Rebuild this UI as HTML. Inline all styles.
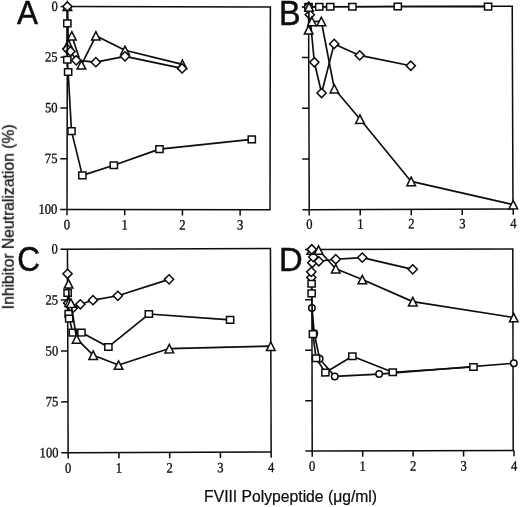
<!DOCTYPE html>
<html lang="en"><head><meta charset="utf-8"><title>FVIII Polypeptide Inhibitor Neutralization</title>
<style>
html,body{margin:0;padding:0;background:#fff;overflow:hidden}
svg{display:block;will-change:transform;opacity:.999}
.ax rect,.ax line{fill:none;stroke:#0a0a0a;stroke-width:1.5}
.ln{fill:none;stroke:#0a0a0a;stroke-width:1.65;stroke-linejoin:round}
.mk *{fill:#fff;stroke:#0a0a0a;stroke-width:1.5;stroke-linejoin:miter}
.tl text{font-family:"Liberation Serif","DejaVu Serif",serif;font-size:14.2px;fill:#0a0a0a;stroke:#0a0a0a;stroke-width:0.3}
.pl{font-family:"Liberation Sans","DejaVu Sans",sans-serif;font-size:33.5px;fill:#0a0a0a;stroke:#0a0a0a;stroke-width:0.45}
.al{font-family:"Liberation Sans","DejaVu Sans",sans-serif;font-size:15.7px;fill:#0a0a0a;stroke:#0a0a0a;stroke-width:0.2}
</style></head><body>
<svg width="520" height="507" viewBox="0 0 520 507">
<defs><filter id="soft" x="0" y="0" width="520" height="507" filterUnits="userSpaceOnUse"><feGaussianBlur stdDeviation="0.38"/></filter></defs>
<rect width="520" height="507" fill="#fff"/>
<g filter="url(#soft)">
<g transform="rotate(0.1 168.7 108.1)">
<g class="ax"><rect x="67.2" y="6.7" width="203.00" height="202.90"/><line x1="60.40" y1="6.70" x2="67.20" y2="6.70"/><line x1="60.40" y1="57.42" x2="67.20" y2="57.42"/><line x1="60.40" y1="108.15" x2="67.20" y2="108.15"/><line x1="60.40" y1="158.87" x2="67.20" y2="158.87"/><line x1="60.40" y1="209.60" x2="67.20" y2="209.60"/><line x1="67.20" y1="209.60" x2="67.20" y2="215.40"/><line x1="124.90" y1="209.60" x2="124.90" y2="215.40"/><line x1="182.60" y1="209.60" x2="182.60" y2="215.40"/><line x1="240.30" y1="209.60" x2="240.30" y2="215.40"/></g>
<g class="tl"><text transform="translate(57.60 11.10) scale(0.89 1)" text-anchor="end">0</text><text transform="translate(57.60 61.82) scale(0.89 1)" text-anchor="end">25</text><text transform="translate(57.60 112.55) scale(0.89 1)" text-anchor="end">50</text><text transform="translate(57.60 163.27) scale(0.89 1)" text-anchor="end">75</text><text transform="translate(57.60 214.00) scale(0.89 1)" text-anchor="end">100</text><text transform="translate(67.20 229.40) scale(0.89 1)" text-anchor="middle">0</text><text transform="translate(124.90 229.40) scale(0.89 1)" text-anchor="middle">1</text><text transform="translate(182.60 229.40) scale(0.89 1)" text-anchor="middle">2</text><text transform="translate(240.30 229.40) scale(0.89 1)" text-anchor="middle">3</text></g>
<path class="ln" d="M67.20 6.29L68.07 44.24L71.70 35.92L81.34 64.93L95.76 35.92L124.90 50.32L182.31 64.32"/>
<g class="mk"><path d="M67.20 2.09L71.50 10.59L62.90 10.59Z"/><path d="M68.07 40.04L72.37 48.54L63.77 48.54Z"/><path d="M71.70 31.72L76.00 40.22L67.40 40.22Z"/><path d="M81.34 60.73L85.64 69.23L77.04 69.23Z"/><path d="M95.76 31.72L100.06 40.22L91.46 40.22Z"/><path d="M124.90 46.12L129.20 54.62L120.60 54.62Z"/><path d="M182.31 60.12L186.61 68.62L178.01 68.62Z"/></g>
<path class="ln" d="M67.20 6.70L67.20 49.31L70.37 51.54L76.14 60.47L95.76 62.29L124.90 56.41L182.02 68.38"/>
<g class="mk"><path d="M67.20 2.10L71.80 6.70L67.20 11.30L62.60 6.70Z"/><path d="M67.20 44.71L71.80 49.31L67.20 53.91L62.60 49.31Z"/><path d="M70.37 46.94L74.97 51.54L70.37 56.14L65.77 51.54Z"/><path d="M76.14 55.87L80.74 60.47L76.14 65.07L71.54 60.47Z"/><path d="M95.76 57.69L100.36 62.29L95.76 66.89L91.16 62.29Z"/><path d="M124.90 51.81L129.50 56.41L124.90 61.01L120.30 56.41Z"/><path d="M182.02 63.78L186.62 68.38L182.02 72.98L177.42 68.38Z"/></g>
<path class="ln" d="M67.20 23.54L67.20 59.86L68.07 72.24L71.53 131.28L82.49 175.51L113.94 165.37L159.52 149.14L251.84 139.19"/>
<g class="mk"><rect x="63.60" y="20.24" width="7.20" height="6.60"/><rect x="63.60" y="56.56" width="7.20" height="6.60"/><rect x="64.47" y="68.94" width="7.20" height="6.60"/><rect x="67.93" y="127.98" width="7.20" height="6.60"/><rect x="78.89" y="172.21" width="7.20" height="6.60"/><rect x="110.34" y="162.07" width="7.20" height="6.60"/><rect x="155.92" y="145.84" width="7.20" height="6.60"/><rect x="248.24" y="135.89" width="7.20" height="6.60"/></g>
</g>
<text class="pl" style="font-size:33.5px" transform="translate(17.0 23.8) scale(0.94 1)">A</text>
<g transform="rotate(-0.2 410.8 108.0)">
<g class="ax"><rect x="308.9" y="6.5" width="203.70" height="202.90"/><line x1="302.10" y1="6.50" x2="308.90" y2="6.50"/><line x1="302.10" y1="57.22" x2="308.90" y2="57.22"/><line x1="302.10" y1="107.95" x2="308.90" y2="107.95"/><line x1="302.10" y1="158.67" x2="308.90" y2="158.67"/><line x1="302.10" y1="209.40" x2="308.90" y2="209.40"/><line x1="308.90" y1="209.40" x2="308.90" y2="215.20"/><line x1="359.90" y1="209.40" x2="359.90" y2="215.20"/><line x1="410.90" y1="209.40" x2="410.90" y2="215.20"/><line x1="461.90" y1="209.40" x2="461.90" y2="215.20"/><line x1="512.90" y1="209.40" x2="512.90" y2="215.20"/></g>
<g class="tl"><text transform="translate(308.90 228.30) scale(0.89 1)" text-anchor="middle">0</text><text transform="translate(359.90 228.30) scale(0.89 1)" text-anchor="middle">1</text><text transform="translate(410.90 228.30) scale(0.89 1)" text-anchor="middle">2</text><text transform="translate(461.90 228.30) scale(0.89 1)" text-anchor="middle">3</text><text transform="translate(512.90 228.30) scale(0.89 1)" text-anchor="middle">4</text></g>
<path class="ln" d="M308.90 6.50L319.61 6.50L330.57 6.50L352.76 6.50L398.15 6.50L488.42 6.91"/>
<g class="mk"><rect x="305.30" y="3.20" width="7.20" height="6.60"/><rect x="316.01" y="3.20" width="7.20" height="6.60"/><rect x="326.97" y="3.20" width="7.20" height="6.60"/><rect x="349.16" y="3.20" width="7.20" height="6.60"/><rect x="394.55" y="3.20" width="7.20" height="6.60"/><rect x="484.82" y="3.61" width="7.20" height="6.60"/></g>
<path class="ln" d="M308.90 6.50L310.17 14.41L314.51 61.89L321.65 92.73L334.40 43.63L359.90 55.20L410.90 65.75"/>
<g class="mk"><path d="M308.90 1.90L313.50 6.50L308.90 11.10L304.30 6.50Z"/><path d="M310.17 9.81L314.77 14.41L310.17 19.01L305.57 14.41Z"/><path d="M314.51 57.29L319.11 61.89L314.51 66.49L309.91 61.89Z"/><path d="M321.65 88.13L326.25 92.73L321.65 97.33L317.05 92.73Z"/><path d="M334.40 39.03L339.00 43.63L334.40 48.23L329.80 43.63Z"/><path d="M359.90 50.60L364.50 55.20L359.90 59.80L355.30 55.20Z"/><path d="M410.90 61.15L415.50 65.75L410.90 70.35L406.30 65.75Z"/></g>
<path class="ln" d="M309.41 6.50L308.90 29.43L312.21 21.11L321.65 21.11L334.40 88.47L359.90 118.91L410.90 181.40L512.90 204.94"/>
<g class="mk"><path d="M309.41 2.30L313.71 10.80L305.11 10.80Z"/><path d="M308.90 25.23L313.20 33.73L304.60 33.73Z"/><path d="M312.21 16.91L316.51 25.41L307.91 25.41Z"/><path d="M321.65 16.91L325.95 25.41L317.35 25.41Z"/><path d="M334.40 84.27L338.70 92.77L330.10 92.77Z"/><path d="M359.90 114.71L364.20 123.21L355.60 123.21Z"/><path d="M410.90 177.20L415.20 185.70L406.60 185.70Z"/><path d="M512.90 200.74L517.20 209.24L508.60 209.24Z"/></g>
</g>
<text class="pl" style="font-size:34.4px" transform="translate(279.0 24.6) scale(0.94 1)">B</text>
<g transform="rotate(-0.2 169.3 350.6)">
<g class="ax"><rect x="67.8" y="248.8" width="203.00" height="203.60"/><line x1="61.00" y1="248.80" x2="67.80" y2="248.80"/><line x1="61.00" y1="299.70" x2="67.80" y2="299.70"/><line x1="61.00" y1="350.60" x2="67.80" y2="350.60"/><line x1="61.00" y1="401.50" x2="67.80" y2="401.50"/><line x1="61.00" y1="452.40" x2="67.80" y2="452.40"/><line x1="67.80" y1="452.40" x2="67.80" y2="458.20"/><line x1="118.55" y1="452.40" x2="118.55" y2="458.20"/><line x1="169.30" y1="452.40" x2="169.30" y2="458.20"/><line x1="220.05" y1="452.40" x2="220.05" y2="458.20"/><line x1="270.80" y1="452.40" x2="270.80" y2="458.20"/></g>
<g class="tl"><text transform="translate(58.20 253.20) scale(0.89 1)" text-anchor="end">0</text><text transform="translate(58.20 304.10) scale(0.89 1)" text-anchor="end">25</text><text transform="translate(58.20 355.00) scale(0.89 1)" text-anchor="end">50</text><text transform="translate(58.20 405.90) scale(0.89 1)" text-anchor="end">75</text><text transform="translate(58.20 456.80) scale(0.89 1)" text-anchor="end">100</text><text transform="translate(67.80 472.40) scale(0.89 1)" text-anchor="middle">0</text><text transform="translate(118.55 472.40) scale(0.89 1)" text-anchor="middle">1</text><text transform="translate(169.30 472.40) scale(0.89 1)" text-anchor="middle">2</text><text transform="translate(220.05 472.40) scale(0.89 1)" text-anchor="middle">3</text><text transform="translate(270.80 472.40) scale(0.89 1)" text-anchor="middle">4</text></g>
<path class="ln" d="M67.80 273.44L68.31 302.55L72.88 307.84L80.49 303.98L93.17 299.90L118.04 295.63L169.30 279.34"/>
<g class="mk"><path d="M67.80 268.84L72.40 273.44L67.80 278.04L63.20 273.44Z"/><path d="M68.31 297.95L72.91 302.55L68.31 307.15L63.71 302.55Z"/><path d="M72.88 303.24L77.47 307.84L72.88 312.44L68.28 307.84Z"/><path d="M80.49 299.38L85.09 303.98L80.49 308.58L75.89 303.98Z"/><path d="M93.17 295.30L97.77 299.90L93.17 304.50L88.58 299.90Z"/><path d="M118.04 291.03L122.64 295.63L118.04 300.23L113.44 295.63Z"/><path d="M169.30 274.74L173.90 279.34L169.30 283.94L164.70 279.34Z"/></g>
<path class="ln" d="M67.80 292.57L68.81 313.54L69.32 318.23L72.88 332.28L81.50 332.28L108.40 346.73L149.00 313.95L230.20 320.06"/>
<g class="mk"><rect x="64.20" y="289.27" width="7.20" height="6.60"/><rect x="65.22" y="310.24" width="7.20" height="6.60"/><rect x="65.72" y="314.93" width="7.20" height="6.60"/><rect x="69.28" y="328.98" width="7.20" height="6.60"/><rect x="77.90" y="328.98" width="7.20" height="6.60"/><rect x="104.80" y="343.43" width="7.20" height="6.60"/><rect x="145.40" y="310.65" width="7.20" height="6.60"/><rect x="226.60" y="316.76" width="7.20" height="6.60"/></g>
<path class="ln" d="M68.81 283.41L69.32 301.74L71.10 302.75L76.68 338.59L93.17 354.88L118.55 364.85L169.30 348.56L270.80 346.53"/>
<g class="mk"><path d="M68.81 279.21L73.11 287.71L64.52 287.71Z"/><path d="M69.32 297.54L73.62 306.04L65.02 306.04Z"/><path d="M71.10 298.55L75.40 307.05L66.80 307.05Z"/><path d="M76.68 334.39L80.98 342.89L72.38 342.89Z"/><path d="M93.17 350.68L97.47 359.18L88.88 359.18Z"/><path d="M118.55 360.65L122.85 369.15L114.25 369.15Z"/><path d="M169.30 344.36L173.60 352.86L165.00 352.86Z"/><path d="M270.80 342.33L275.10 350.83L266.50 350.83Z"/></g>
</g>
<text class="pl" style="font-size:35.3px" transform="translate(17.3 270.9) scale(0.895 1)">C</text>
<g transform="rotate(-0.13 412.5 350.0)">
<g class="ax"><rect x="312.0" y="249.2" width="201.00" height="201.60"/><line x1="305.20" y1="249.20" x2="312.00" y2="249.20"/><line x1="305.20" y1="299.60" x2="312.00" y2="299.60"/><line x1="305.20" y1="350.00" x2="312.00" y2="350.00"/><line x1="305.20" y1="400.40" x2="312.00" y2="400.40"/><line x1="305.20" y1="450.80" x2="312.00" y2="450.80"/><line x1="312.00" y1="450.80" x2="312.00" y2="456.60"/><line x1="362.45" y1="450.80" x2="362.45" y2="456.60"/><line x1="412.90" y1="450.80" x2="412.90" y2="456.60"/><line x1="463.35" y1="450.80" x2="463.35" y2="456.60"/><line x1="513.80" y1="450.80" x2="513.80" y2="456.60"/></g>
<g class="tl"><text transform="translate(312.00 470.60) scale(0.89 1)" text-anchor="middle">0</text><text transform="translate(362.45 470.60) scale(0.89 1)" text-anchor="middle">1</text><text transform="translate(412.90 470.60) scale(0.89 1)" text-anchor="middle">2</text><text transform="translate(463.35 470.60) scale(0.89 1)" text-anchor="middle">3</text><text transform="translate(513.80 470.60) scale(0.89 1)" text-anchor="middle">4</text></g>
<path class="ln" d="M312.00 307.66L314.27 333.07L319.57 358.47L334.70 376.21L379.10 373.99L513.80 363.51"/>
<g class="mk"><circle cx="312.00" cy="307.66" r="3.25"/><circle cx="314.27" cy="333.07" r="3.25"/><circle cx="319.57" cy="358.47" r="3.25"/><circle cx="334.70" cy="376.21" r="3.25"/><circle cx="379.10" cy="373.99" r="3.25"/><circle cx="513.80" cy="363.51" r="3.25"/></g>
<path class="ln" d="M311.50 277.22L311.50 271.58L312.50 262.51L313.51 256.86L312.00 249.20L319.06 261.09L335.96 259.08L362.45 257.47L412.90 269.36"/>
<g class="mk"><path d="M311.50 272.62L316.10 277.22L311.50 281.82L306.90 277.22Z"/><path d="M311.50 266.98L316.10 271.58L311.50 276.18L306.90 271.58Z"/><path d="M312.50 257.91L317.10 262.51L312.50 267.11L307.90 262.51Z"/><path d="M313.51 252.26L318.11 256.86L313.51 261.46L308.91 256.86Z"/><path d="M312.00 244.60L316.60 249.20L312.00 253.80L307.40 249.20Z"/><path d="M319.06 256.49L323.66 261.09L319.06 265.69L314.46 261.09Z"/><path d="M335.96 254.48L340.56 259.08L335.96 263.68L331.36 259.08Z"/><path d="M362.45 252.87L367.05 257.47L362.45 262.07L357.85 257.47Z"/><path d="M412.90 264.76L417.50 269.36L412.90 273.96L408.30 269.36Z"/></g>
<path class="ln" d="M311.50 249.80L318.81 249.80L335.96 268.55L362.45 279.44L412.90 301.62L513.80 317.74"/>
<g class="mk"><path d="M311.50 245.60L315.80 254.10L307.20 254.10Z"/><path d="M318.81 245.60L323.11 254.10L314.51 254.10Z"/><path d="M335.96 264.35L340.26 272.85L331.66 272.85Z"/><path d="M362.45 275.24L366.75 283.74L358.15 283.74Z"/><path d="M412.90 297.42L417.20 305.92L408.60 305.92Z"/><path d="M513.80 313.54L518.10 322.04L509.50 322.04Z"/></g>
<path class="ln" d="M311.75 283.47L311.75 293.15L313.01 333.87L316.04 358.06L325.37 372.38L352.36 356.05L392.72 372.18L473.44 367.14"/>
<g class="mk"><rect x="308.15" y="280.17" width="7.20" height="6.60"/><rect x="308.15" y="289.85" width="7.20" height="6.60"/><rect x="309.41" y="330.57" width="7.20" height="6.60"/><rect x="312.44" y="354.76" width="7.20" height="6.60"/><rect x="321.77" y="369.08" width="7.20" height="6.60"/><rect x="348.76" y="352.75" width="7.20" height="6.60"/><rect x="389.12" y="368.88" width="7.20" height="6.60"/><rect x="469.84" y="363.84" width="7.20" height="6.60"/></g>
<g class="mk"><path d="M312.00 244.60L316.60 249.20L312.00 253.80L307.40 249.20Z"/></g>
</g>
<text class="pl" style="font-size:33.8px" transform="translate(279.0 271.3) scale(0.97 1)">D</text>
<text class="al" x="290.6" y="501.5" text-anchor="middle">FVIII Polypeptide (μg/ml)</text>
<text class="al" transform="translate(13.8 216.8) rotate(-90)" text-anchor="middle">Inhibitor Neutralization (%)</text>
</g>
</svg>
</body></html>
